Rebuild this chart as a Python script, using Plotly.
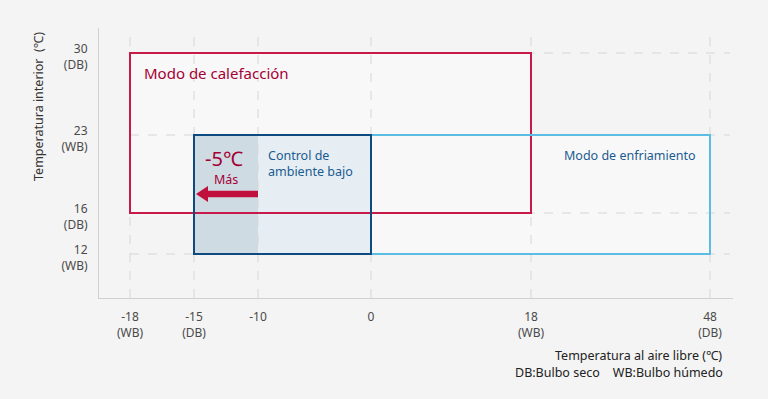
import plotly.graph_objects as go
import numpy as np

# ---------------- data ----------------
x_tick_values = [-18, -15, -10, 0, 18, 48]
x_tick_labels = ["-18<br>(WB)", "-15<br>(DB)", "-10", "0", "18<br>(WB)", "48<br>(DB)"]
y_tick_values = [12, 16, 23, 30]
y_tick_labels = ["12<br>(WB)", "16<br>(DB)", "23<br>(WB)", "30<br>(DB)"]

heating_x = [-18, 18]
heating_y = [16, 30]
low_ambient_x = [-15, 0]
low_ambient_y = [12, 23]
cooling_x = [0, 48]
cooling_y = [12, 23]
extension_x = [-15, -10]   # 5 degrees more
extension_label = "-5℃"

# ------------- scale (non-uniform axis, piecewise linear) -------------
x_tick_slots = [31, 95, 159, 272, 432, 611]
y_tick_slots = [44, 85, 163, 245]


def sx(v):
    return float(np.interp(v, x_tick_values, x_tick_slots))


def sy(v):
    return float(np.interp(v, y_tick_values, y_tick_slots))


X_RANGE = [0, 634]
Y_RANGE = [0, 270]

BG = "#f4f4f4"
RED = "#c8194b"
RED_TXT = "#a50034"
DBLUE = "#0e4a80"
DBLUE_TXT = "#1b5b91"
LBLUE = "#5bbde4"
GRID = "#d6d6d6"
FONT = "Noto Sans"

fig = go.Figure()
fig.add_trace(go.Scatter(x=[sx(v) for v in x_tick_values], y=[sy(v) for v in y_tick_values],
                         mode="markers", marker=dict(opacity=0), hoverinfo="skip", showlegend=False))

shapes = []


def rect(xs, ys, fill=None, line=None, width=2):
    return dict(type="rect", xref="x", yref="y", x0=sx(xs[0]), x1=sx(xs[1]), y0=sy(ys[0]), y1=sy(ys[1]),
                fillcolor=fill if fill else "rgba(0,0,0,0)",
                line=dict(color=line if line else "rgba(0,0,0,0)", width=width if line else 0),
                layer="above")


# fills
shapes.append(rect(heating_x, heating_y, fill="#f8f8f8"))
shapes.append(rect(cooling_x, cooling_y, fill="#f8f8f8"))
shapes.append(rect(low_ambient_x, low_ambient_y, fill="#e6eef3"))
shapes.append(rect(extension_x, low_ambient_y, fill="#cfdbe3"))

# grid lines (drawn over the fills)
for v in x_tick_values:
    shapes.append(dict(type="line", xref="x", yref="y", x0=sx(v), x1=sx(v), y0=0, y1=265,
                       line=dict(color=GRID, width=1, dash="dash"), layer="above"))
for v in y_tick_values:
    shapes.append(dict(type="line", xref="x", yref="y", x0=sx(x_tick_values[0]), x1=631, y0=sy(v), y1=sy(v),
                       line=dict(color=GRID, width=1, dash="dash"), layer="above"))

# borders
shapes.append(rect(heating_x, heating_y, line=RED))
shapes.append(rect(cooling_x, cooling_y, line=LBLUE))
shapes.append(rect(low_ambient_x, low_ambient_y, line=DBLUE))

# arrow (pointing from -10 to -15)
ax0 = sx(extension_x[1])
ax1 = sx(extension_x[0]) + 2
ay = sy(16) + 19
body_h = 3.2
head_h = 8
head_l = 12
path = (f"M {ax0},{ay + body_h} L {ax1 + head_l},{ay + body_h} L {ax1 + head_l},{ay + head_h} "
        f"L {ax1},{ay} L {ax1 + head_l},{ay - head_h} L {ax1 + head_l},{ay - body_h} L {ax0},{ay - body_h} Z")
shapes.append(dict(type="path", xref="x", yref="y", path=path, fillcolor="#c0103c",
                   line=dict(width=0), layer="above"))

annotations = [
    dict(x=sx(heating_x[0]), y=sy(heating_y[1]), xref="x", yref="y", text="Modo de calefacción",
         showarrow=False, xanchor="left", yanchor="top", xshift=12, yshift=-8,
         font=dict(family=FONT, size=15, color=RED_TXT)),
    dict(x=sx(cooling_x[1]), y=sy(cooling_y[1]), xref="x", yref="y", text="Modo de enfriamiento",
         showarrow=False, xanchor="right", yanchor="top", xshift=-12, yshift=-10,
         font=dict(family=FONT, size=12.5, color=DBLUE_TXT)),
    dict(x=sx(extension_x[1]), y=sy(low_ambient_y[1]), xref="x", yref="y", text="Control de<br>ambiente bajo",
         showarrow=False, xanchor="left", yanchor="top", xshift=8, yshift=-10, align="left",
         font=dict(family=FONT, size=12.5, color=DBLUE_TXT)),
    dict(x=(sx(extension_x[0]) + sx(extension_x[1])) / 2, y=sy(low_ambient_y[1]), xref="x", yref="y",
         text=extension_label, showarrow=False, xanchor="center", yanchor="top", xshift=-2, yshift=-8,
         font=dict(family=FONT, size=20, color=RED_TXT)),
    dict(x=(sx(extension_x[0]) + sx(extension_x[1])) / 2, y=sy(low_ambient_y[1]), xref="x", yref="y",
         text="Más", showarrow=False, xanchor="center", yanchor="top", xshift=0, yshift=-34,
         font=dict(family=FONT, size=12.5, color=RED_TXT)),
    dict(x=38, y=107, xref="paper", yref="paper", text="Temperatura interior  (℃)",
         showarrow=False, textangle=-90, xanchor="center", yanchor="middle",
         font=dict(family=FONT, size=12.5, color="#333333")),
    dict(x=724, y=355, xref="paper", yref="paper", text="Temperatura al aire libre (℃)",
         showarrow=False, xanchor="right", yanchor="middle",
         font=dict(family=FONT, size=12.5, color="#222222")),
    dict(x=725, y=372, xref="paper", yref="paper", text="DB:Bulbo seco    WB:Bulbo húmedo",
         showarrow=False, xanchor="right", yanchor="middle",
         font=dict(family=FONT, size=12.5, color="#222222")),
]

W, H = 768, 399
ML, MR, MT, MB = 99, 35, 28, 101
for a in annotations:
    if a["xref"] == "paper":
        a["x"] = (a["x"] - ML) / (W - ML - MR)
        a["y"] = (H - MB - a["y"]) / (H - MT - MB)

fig.update_layout(
    width=W, height=H,
    margin=dict(l=ML, r=MR, t=MT, b=MB),
    paper_bgcolor=BG, plot_bgcolor=BG,
    shapes=shapes, annotations=annotations,
    showlegend=False,
    xaxis=dict(range=X_RANGE, tickvals=[sx(v) for v in x_tick_values], ticktext=x_tick_labels,
               showgrid=False, zeroline=False, showline=True, linecolor="#d0d0d0", linewidth=1,
               ticks="", ticklabelstandoff=8, tickfont=dict(family=FONT, size=12, color="#4a4a4a"),
               fixedrange=True),
    yaxis=dict(range=Y_RANGE, tickvals=[sy(v) for v in y_tick_values], ticktext=y_tick_labels,
               showgrid=False, zeroline=False, showline=True, linecolor="#d0d0d0", linewidth=1,
               ticks="", ticklabelstandoff=8, ticklabelshift=4,
               tickfont=dict(family=FONT, size=12, color="#4a4a4a"),
               fixedrange=True),
    font=dict(family=FONT),
)

fig.write_html("out.html", config={"displayModeBar": False},
               post_script="document.body.style.margin='0';document.body.style.background='#f4f4f4';")
